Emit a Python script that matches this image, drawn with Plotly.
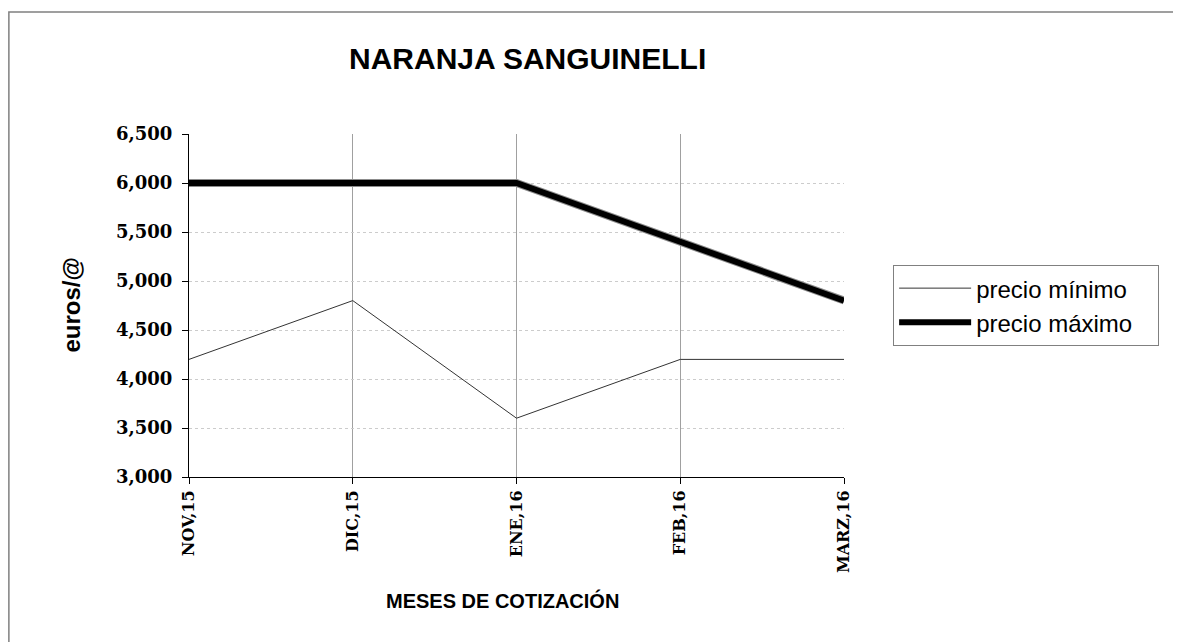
import plotly.graph_objects as go

meses = ["NOV,15", "DIC,15", "ENE,16", "FEB,16", "MARZ,16"]
precio_minimo = [4.2, 4.8, 3.6, 4.2, 4.2]
precio_maximo = [6.0, 6.0, 6.0, 5.4, 4.8]

pad = "\u00a0" * 3  # widen the legend box a little

fig = go.Figure()
fig.add_trace(go.Scatter(x=meses, y=precio_minimo, mode="lines", name="precio mínimo" + pad,
                         line=dict(color="#333333", width=1)))
# soft grey edge under the thick line, as in the original
fig.add_trace(go.Scatter(x=meses, y=precio_maximo, mode="lines", showlegend=False,
                         hoverinfo="skip", line=dict(color="#8c8c8c", width=8)))
fig.add_trace(go.Scatter(x=meses, y=precio_maximo, mode="lines", name="precio máximo" + pad,
                         line=dict(color="black", width=6)))

fig.update_layout(
    width=1181, height=642,
    paper_bgcolor="white", plot_bgcolor="white",
    margin=dict(l=181, r=345, t=126, b=173),
    separators=",.",
    title=dict(text="<b>NARANJA SANGUINELLI</b>", x=0.44, xanchor="center", y=0.922, yanchor="middle",
               font=dict(family="Arial", size=30, color="black")),
    xaxis=dict(
        type="category", range=[0, 4], showline=True, linecolor="black", linewidth=1,
        ticks="outside", ticklen=6, tickcolor="black", tickangle=-90,
        tickfont=dict(family="DejaVu Serif", size=16, color="black", weight="bold"),
        showgrid=True, gridcolor="#a0a0a0", gridwidth=1,
    ),
    yaxis=dict(
        range=[3, 6.5], dtick=0.5, tickformat=".3f", showline=True, linecolor="black", linewidth=1,
        ticks="outside", ticklen=6, tickcolor="black", ticklabelstandoff=6,
        tickfont=dict(family="DejaVu Serif", size=18, color="black", weight="bold"),
        showgrid=True, gridcolor="#cccccc", griddash="dot", zeroline=False,
    ),
    legend=dict(x=1.075, xanchor="left", y=0.618, yanchor="top",
                bordercolor="#808080", borderwidth=1, bgcolor="white", itemwidth=72,
                font=dict(family="Arial", size=24, color="black")),
    annotations=[
        dict(text="<b>MESES DE COTIZACIÓN</b>", xref="paper", yref="paper", x=0.478, y=-0.36,
             xanchor="center", yanchor="middle", showarrow=False,
             font=dict(family="Arial", size=20, color="black")),
        dict(text="<b>euros/@</b>", xref="paper", yref="paper", x=-0.18, y=0.5, textangle=-90,
             xanchor="center", yanchor="middle", showarrow=False,
             font=dict(family="Arial", size=24, color="black")),
    ],
    shapes=[dict(type="rect", xref="paper", yref="paper", x0=-0.275, x1=1.55, y0=-0.53, y1=1.356,
                 line=dict(color="#808080", width=1.5), layer="below")],
)

fig.write_html("out.html")
